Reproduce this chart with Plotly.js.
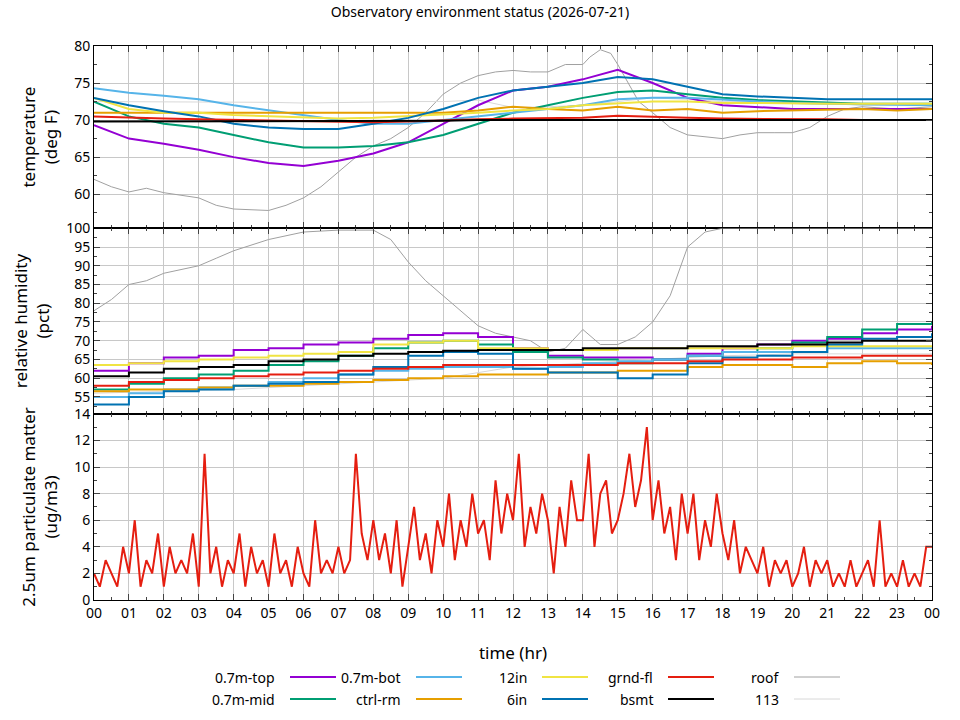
<!DOCTYPE html>
<html>
<head>
<meta charset="utf-8">
<script src="https://cdn.plot.ly/plotly-3.0.1.min.js"></script>
<style>body{margin:0;background:#fff}#chart{width:960px;height:720px}</style>
</head>
<body>
<div id="chart"></div>
<script>
// series names and colours (legend order: row 1 then row 2)
var names = ['0.7m-top','0.7m-mid','0.7m-bot','ctrl-rm','12in','6in','grnd-fl','bsmt','roof','113'];
var colors = ['#9400d3','#009e73','#56b4e9','#e69f00','#f0e442','#0072b2','#e51e10','#000000','#a0a0a0','#d8d8d8'];

var hrs = [0,1,2,3,4,5,6,7,8,9,10,11,12,13,14,15,16,17,18,19,20,21,22,23,24];

// temperature (deg F), hourly
var tTop = [69.3,67.5,66.8,66,65,64.2,63.8,64.5,65.5,67,69.5,72,74,74.5,75.5,76.8,75,73,72,71.8,71.5,71.5,71.5,71.5,71.5];
var tMid = [72.5,70.5,69.5,69,68,67,66.3,66.3,66.5,67,68,69.5,71,72,73,73.8,74,73.5,73,72.7,72.5,72.3,72.2,72.2,72.2];
var tBot = [74.3,73.7,73.3,72.8,72,71.3,70.7,70,69.5,69.5,70,70.5,71,71.5,72,72.8,73,73,72.8,72.5,72.3,72.2,72.1,72,72];
var tCtrl = [71,71,71,71,71,71,71,71,71,71,71,71.3,71.8,71.5,71.3,71.8,71.3,71.5,71,71.2,71.3,71.3,71.5,71.3,71.5];
var t12in = [73,71.5,71,71,70.7,70.5,70.3,70.2,70.3,70.5,70.8,71,71.3,71.5,72,72.3,72.5,72.5,72.3,72.3,72.2,72.2,72.2,72.2,72.2];
var t6in = [73,72,71.2,70.5,69.5,69,68.8,68.8,69.5,70.3,71.5,73,74,74.5,75,75.8,75.5,74.5,73.5,73.2,73,72.8,72.8,72.8,72.8];
var tGrnd = [70.5,70.3,70.2,70.1,70,69.9,69.8,69.8,69.7,69.8,70,70.1,70.2,70.2,70.3,70.6,70.4,70.3,70.2,70.2,70.2,70.1,70,70,70];
var tBsmt = [69.8,69.8,69.8,69.8,69.8,69.8,69.8,69.8,69.8,69.9,69.9,70,70,70,70,70,70,70,70,70,70,70,70,70,70];
var t113 = [72.5,72.5,72.5,72.5,72.5,72.4,72.3,72.4,72.5,72.5,72.5,72.7,71.7,71.8,72,72.5,73,72.8,72.5,72.5,72.5,72.3,72,72,72];
var roofHrs = [0,0.5,1,1.5,2,3,3.5,4,5,5.5,6,6.5,7,7.5,8,8.5,9,9.5,10,10.5,11,11.5,12,12.5,13,13.5,14,14.2,14.5,14.8,15,15.3,15.6,16,16.5,17,17.5,18,18.5,19,19.5,20,20.5,21,21.5,22,23,24];
var tRoof = [62,61,60.3,60.8,60.2,59.5,58.5,58,57.8,58.5,59.5,61,63,65,66.5,67.5,69,71,73.5,75,76,76.5,76.7,76.5,76.5,77.5,77.5,78.5,79.5,79,77.5,75,72.5,71,69,68,67.8,67.5,68,68.3,68.3,68.3,69,70.5,71.5,71.8,71.5,71.8];

// relative humidity (pct), hourly
var hTop = [62,64,65.5,66,67.5,68,69,69.5,70.5,71.5,72,71,68,66,65.5,65.5,65,66.5,68,69,70,70.5,72,73,74];
var hMid = [57,58.5,60,61,62,63.5,64.5,66,68,69.5,70,69,67,65.5,65,64,65,66,67,68,69.5,71,73,74.5,75];
var hBot = [55,56,57,57.5,58,59,60,61,62,62.5,63,63,62.5,63,64,64.5,65,66,67,67,67,68,68,68,68];
var hCtrl = [56.5,57,57,57.5,58,58,58.5,59,59.5,60,60.5,61,61,61.5,61.5,62,62,63,63.5,63.5,63,64,64.5,64,63.5];
var h12in = [63.5,64,64.5,65,65.5,66,66.5,67,69,69.5,70,68,68,67.5,67.5,68,68,68,68,68,68.5,68.5,68.5,68.5,68.5];
var h6in = [53,55,56.5,57,58,58.5,59,61,63,66,67,66.5,62.5,61.5,61.5,60,61,64,65.5,66,67,69,70.5,71,72];
var hGrnd = [58,59,59.5,60,60.5,61,61.5,62,62.5,63,63.5,63.5,63.5,63.5,63.5,64,64,64.5,65,65,65.5,65.5,66,66,66];
var hBsmt = [60.5,61.5,62.5,63,63.5,64.5,65,66,66.5,67,67.3,67.5,67.5,67.5,68,68,68,68.5,68.5,69,69,69.5,70,70,70.5];
var h113 = [56,56.2,56.5,56.8,57,57.5,58,58.5,59,59.5,60,61.5,63,63.5,64,64.5,65,65.5,66,66.2,66.5,66.5,66.5,66.5,66.5];
var roofHrsH = [0,0.5,1,1.5,2,3,3.5,4,5,6,7,8,8.5,9,9.5,10,10.5,11,11.5,12,12.5,13,13.5,14,14.5,15,15.5,16,16.5,17,17.5,18,24];
var hRoof = [78,81,85,86,88,90,92,94,97,99,99.5,99.5,97,91,86,82,78,74,72,71,70,67,68,73,69,69,71,75,82,95,99,100,100];

// 2.5um particulate matter (ug/m3), every 10 min from 00:00
var pm = [2,1,3,2,1,4, 2,6,1,3,2,5, 1,4,2,3,2,5, 1,11,2,4,1,3, 2,5,1,4,2,3, 1,5,2,3,1,4,
  2,1,6,2,3,2, 4,2,3,11,5,3, 6,3,5,2,6,1, 4,7,3,5,2,6, 4,8,3,6,4,8, 5,6,3,9,5,8,
  6,11,4,7,5,8, 6,2,7,4,9,6, 6,11,4,8,9,5, 6,8,11,7,9,13, 6,9,5,7,3,8, 5,8,3,6,4,8,
  5,3,6,2,4,3, 2,4,1,3,2,3, 1,2,4,1,3,2, 3,1,2,1,3,1, 2,3,1,6,1,2, 1,3,1,2,1,4, 4];
var pmHrs = pm.map(function(v,i){return i/6;});

var tickVals = hrs;
var tickText = ['00','01','02','03','04','05','06','07','08','09','10','11','12','13','14','15','16','17','18','19','20','21','22','23','00'];

var tempSets = [[hrs,tTop],[hrs,tMid],[hrs,tBot],[hrs,tCtrl],[hrs,t12in],[hrs,t6in],[hrs,tGrnd],[hrs,tBsmt],[roofHrs,tRoof],[hrs,t113]];
var humSets = [[hrs,hTop],[hrs,hMid],[hrs,hBot],[hrs,hCtrl],[hrs,h12in],[hrs,h6in],[hrs,hGrnd],[hrs,hBsmt],[roofHrsH,hRoof],[hrs,h113]];

var traces = [];
// draw order: thin ones first, then the rest
var order = [8,9,0,1,2,3,4,5,6,7];
order.forEach(function(i){
  var w = (i>=8) ? 1 : 2;
  traces.push({x:tempSets[i][0], y:tempSets[i][1], xaxis:'x', yaxis:'y', mode:'lines', line:{color:colors[i], width:w}, name:names[i], showlegend:false});
});
order.forEach(function(i){
  var w = (i>=8) ? 1 : 2;
  traces.push({x:humSets[i][0], y:humSets[i][1], xaxis:'x2', yaxis:'y2', mode:'lines', line:{color:colors[i], width:w, shape:(i>=8)?'linear':'hv'}, name:names[i], showlegend:false});
});
traces.push({x:pmHrs, y:pm, xaxis:'x3', yaxis:'y3', mode:'lines', line:{color:'#e51e10', width:2}, showlegend:false});

function xax(labels){
  return {range:[0,24], tickvals:tickVals, ticktext:tickText, showticklabels:labels, ticks:'inside', ticklen:6,
    mirror:'ticks', showline:true, linecolor:'#000', linewidth:1, showgrid:true, gridcolor:'#c8c8c8', zeroline:false,
    minor:{ticks:'inside', ticklen:3, dtick:0.5}};
}
function yax(dom, rng, dt, title){
  return {domain:dom, range:rng, dtick:dt, ticks:'inside', ticklen:6, mirror:'ticks', showline:true, linecolor:'#000',
    showgrid:true, gridcolor:'#c8c8c8', zeroline:false, minor:{ticks:'inside', ticklen:3, dtick:dt/2},
    title:{text:title, standoff:12}};
}

var xa1 = xax(false); xa1.anchor='y'; xa1.matches='x3';
var xa2 = xax(false); xa2.anchor='y2'; xa2.matches='x3';
var xa3 = xax(true); xa3.anchor='y3'; xa3.title={text:'time (hr)', standoff:26};

// legend built from names/colors
var annotations = [], shapes = [];
names.forEach(function(n,i){
  var col = Math.floor(i/2), row = i%2;
  var right = 277 + 126*col;
  var py = 677 + row*22;
  var xp = function(px){return (px-94)/838;};
  var yp = (600-py)/554;
  annotations.push({text:n, xref:'paper', yref:'paper', x:xp(right), y:yp, xanchor:'right', yanchor:'middle', showarrow:false, font:{size:14}});
  shapes.push({type:'line', xref:'paper', yref:'paper', x0:xp(right+13), x1:xp(right+59), y0:yp, y1:yp, line:{color:colors[i], width:(i>=8)?1:2}});
});

var layout = {
  width:960, height:720,
  margin:{l:94, r:28, t:46, b:120},
  font:{family:'Noto Sans, DejaVu Sans, sans-serif', size:14, color:'#000'},
  title:{text:'Observatory environment status (2026-07-21)', font:{size:14}, y:0.99, yanchor:'top'},
  paper_bgcolor:'#fff', plot_bgcolor:'#fff',
  xaxis:xa1, xaxis2:xa2, xaxis3:xa3,
  yaxis:yax([0.671,1], [55.4,80], 5, 'temperature<br>(deg F)'),
  yaxis2:yax([0.336,0.671], [50.5,100], 5, 'relative humidity<br>(pct)'),
  yaxis3:yax([0,0.336], [0,14], 2, '2.5um particulate matter<br>(ug/m3)'),
  annotations:annotations, shapes:shapes,
  showlegend:false
};
Plotly.newPlot('chart', traces, layout, {displayModeBar:false, staticPlot:true});
</script>
</body>
</html>
